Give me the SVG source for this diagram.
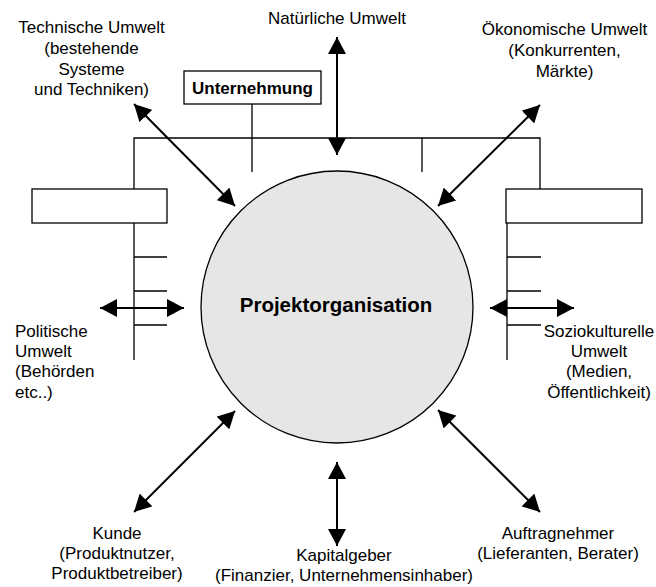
<svg xmlns="http://www.w3.org/2000/svg" width="656" height="587" viewBox="0 0 656 587">
<style>
text{font-family:"Liberation Sans",Arial,sans-serif;font-size:17px;fill:#000}
.c{text-anchor:middle}
.b{font-weight:bold}
.org{fill:none;stroke:#000;stroke-width:1.3}
.box{fill:#fff;stroke:#000;stroke-width:1.3}
.arr{fill:none;stroke:#000;stroke-width:2;marker-start:url(#ah);marker-end:url(#ah)}
</style>
<defs>
<marker id="ah" viewBox="0 -9 17 18" refX="17" refY="0" markerWidth="17" markerHeight="18" markerUnits="userSpaceOnUse" orient="auto-start-reverse">
<path d="M0,-9 L17,0 L0,9 z" fill="#000"/>
</marker>
</defs>
<rect width="656" height="587" fill="#fff"/>
<g id="orgchart">
<path class="org" d="M252,104 V172 M134,189 V138 H540 V189 M422,138 V172 M134,223 V360 M134,257 H167 M134,291 H167 M134,325 H167 M507,223 V360 M507,257 H541 M507,291 H541 M507,325 H541"/>
<rect class="box" x="32" y="189" width="135" height="34"/>
<rect class="box" x="506" y="189" width="136" height="34"/>
</g>
<g id="unternehmung">
<rect class="box" x="184" y="71" width="137" height="33"/>
<text class="c b" x="252.5" y="94">Unternehmung</text>
</g>
<g id="projektorganisation">
<circle cx="337" cy="307" r="136" fill="#e6e6e6" stroke="#000" stroke-width="1.3"/>
<text class="c b" x="336" y="312" style="font-size:20.5px">Projektorganisation</text>
</g>
<g id="connectors">
<line class="arr" x1="337" y1="37" x2="337" y2="155"/>
<line class="arr" x1="134" y1="104" x2="235" y2="206"/>
<line class="arr" x1="540" y1="105" x2="438" y2="206"/>
<line class="arr" x1="100" y1="308" x2="184" y2="308"/>
<line class="arr" x1="490" y1="308" x2="574" y2="308"/>
<line class="arr" x1="235" y1="411" x2="134" y2="512"/>
<line class="arr" x1="438" y1="410" x2="540" y2="512"/>
<line class="arr" x1="337" y1="462" x2="337" y2="546"/>
</g>
<g id="natuerliche">
<text class="c" x="337" y="24">Natürliche Umwelt</text>
</g>
<g id="technische">
<text class="c" x="91.5" y="33">Technische Umwelt</text>
<text class="c" x="91.5" y="54">(bestehende</text>
<text class="c" x="91.5" y="74.5">Systeme</text>
<text class="c" x="91.5" y="95">und Techniken)</text>
</g>
<g id="oekonomische">
<text class="c" x="564.5" y="35">Ökonomische Umwelt</text>
<text class="c" x="564.5" y="56">(Konkurrenten,</text>
<text class="c" x="564.5" y="76.5">Märkte)</text>
</g>
<g id="politische">
<text x="15" y="336.5">Politische</text>
<text x="15" y="357">Umwelt</text>
<text x="15" y="377">(Behörden</text>
<text x="15" y="397.5">etc..)</text>
</g>
<g id="soziokulturelle">
<text class="c" x="599" y="336.5">Soziokulturelle</text>
<text class="c" x="599" y="357">Umwelt</text>
<text class="c" x="599" y="377">(Medien,</text>
<text class="c" x="599" y="397.5">Öffentlichkeit)</text>
</g>
<g id="kunde">
<text class="c" x="117" y="538.5">Kunde</text>
<text class="c" x="117" y="558.5">(Produktnutzer,</text>
<text class="c" x="117" y="579">Produktbetreiber)</text>
</g>
<g id="kapitalgeber">
<text class="c" x="344" y="561">Kapitalgeber</text>
<text class="c" x="344" y="580.5">(Finanzier, Unternehmensinhaber)</text>
</g>
<g id="auftragnehmer">
<text class="c" x="558" y="539">Auftragnehmer</text>
<text class="c" x="558" y="559">(Lieferanten, Berater)</text>
</g>
</svg>
